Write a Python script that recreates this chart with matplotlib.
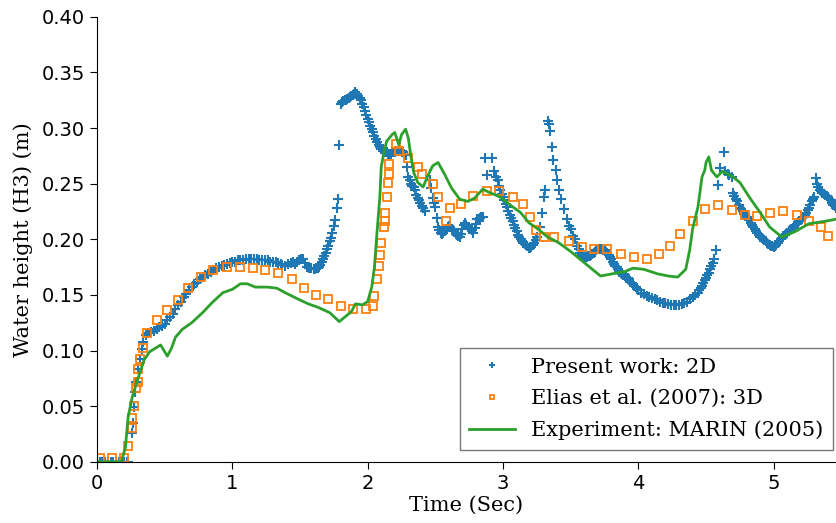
import matplotlib
matplotlib.use("Agg")
from matplotlib import pyplot as plt

# Present work: 2D (dense + markers)
t_2d = [0.00, 0.02, 0.04, 0.06, 0.08, 0.10, 0.12, 0.14, 0.16, 0.18, 0.20, 0.22, 0.23,
        0.26, 0.265, 0.27, 0.28, 0.29, 0.30, 0.32, 0.33, 0.34, 0.36, 0.38,
        0.40, 0.42, 0.44, 0.46, 0.48, 0.50, 0.52, 0.54, 0.56, 0.58, 0.60, 0.62,
        0.64, 0.66, 0.68, 0.70, 0.72, 0.74, 0.76, 0.78, 0.80, 0.82, 0.84, 0.86,
        0.88, 0.90, 0.92, 0.94, 0.96, 0.98, 1.00, 1.02, 1.04, 1.06, 1.08, 1.10,
        1.12, 1.14, 1.16, 1.18, 1.20, 1.22, 1.24, 1.26, 1.28, 1.30, 1.32, 1.34,
        1.36, 1.37, 1.39, 1.41, 1.43, 1.45, 1.46, 1.48, 1.49, 1.51, 1.52, 1.54,
        1.55, 1.57, 1.58, 1.60, 1.61, 1.62, 1.63, 1.64, 1.65, 1.66, 1.67, 1.68,
        1.69, 1.70, 1.71, 1.72, 1.73, 1.74, 1.75, 1.76, 1.77, 1.78, 1.79, 1.80,
        1.81, 1.82, 1.83, 1.84, 1.85, 1.86, 1.87, 1.88, 1.89, 1.90, 1.91, 1.92,
        1.93, 1.94, 1.95, 1.96, 1.97, 1.98, 1.99, 2.00, 2.01, 2.02, 2.03, 2.04,
        2.05, 2.06, 2.07, 2.08, 2.09, 2.10, 2.11, 2.12, 2.13, 2.14, 2.15, 2.16,
        2.17, 2.18, 2.19, 2.20, 2.21, 2.22, 2.23, 2.24, 2.25, 2.26, 2.27, 2.28,
        2.29, 2.30, 2.31, 2.32, 2.33, 2.34, 2.35, 2.36, 2.37, 2.38, 2.39, 2.40,
        2.41, 2.42,
        2.46, 2.47, 2.48, 2.49, 2.50, 2.51, 2.52, 2.53, 2.54, 2.55, 2.56, 2.57,
        2.58, 2.59, 2.60, 2.61, 2.62, 2.63, 2.64, 2.65, 2.66, 2.67, 2.68, 2.69,
        2.70, 2.71, 2.72, 2.73, 2.74, 2.75, 2.76, 2.77, 2.78, 2.79, 2.80, 2.81,
        2.82, 2.83, 2.84, 2.85,
        2.87, 2.88, 2.92, 2.93, 2.95, 2.96, 2.97, 2.98, 2.99, 3.00, 3.01, 3.02,
        3.03, 3.04, 3.05, 3.06, 3.07, 3.08, 3.09, 3.10, 3.11, 3.12, 3.13, 3.14,
        3.15, 3.16, 3.17, 3.18, 3.19, 3.20, 3.21, 3.22, 3.23, 3.24, 3.25,
        3.27, 3.29, 3.30, 3.31, 3.33, 3.34, 3.35, 3.36, 3.37, 3.39, 3.40, 3.41,
        3.43, 3.45, 3.47, 3.49, 3.50, 3.52, 3.53, 3.55, 3.56, 3.57, 3.58, 3.59,
        3.60, 3.61, 3.62, 3.63, 3.64, 3.65, 3.66, 3.67, 3.68, 3.69, 3.70, 3.71,
        3.72, 3.73, 3.74, 3.75, 3.76, 3.77, 3.78, 3.79, 3.80, 3.81, 3.82, 3.83,
        3.84, 3.85, 3.86, 3.87, 3.88, 3.89, 3.90, 3.91, 3.92, 3.93, 3.94, 3.95,
        3.96, 3.97, 3.98, 3.99, 4.00, 4.02, 4.04, 4.06, 4.08, 4.10, 4.12, 4.14,
        4.16, 4.18, 4.20, 4.22, 4.24, 4.26, 4.28, 4.30, 4.32, 4.34, 4.36, 4.38,
        4.40, 4.42, 4.44, 4.45, 4.46, 4.47, 4.48, 4.49, 4.50, 4.51, 4.52, 4.53,
        4.54, 4.55, 4.56, 4.57,
        4.59, 4.60, 4.63, 4.64, 4.66, 4.67, 4.69, 4.70, 4.71, 4.72, 4.73, 4.74,
        4.75, 4.76, 4.77, 4.78, 4.79, 4.80, 4.81, 4.82, 4.83, 4.84, 4.85, 4.86,
        4.87, 4.88, 4.89, 4.90, 4.91, 4.92, 4.93, 4.94, 4.95, 4.96, 4.97, 4.98,
        4.99, 5.00, 5.01, 5.02, 5.03, 5.04, 5.05, 5.06, 5.07, 5.08, 5.09, 5.10,
        5.11, 5.12, 5.13, 5.14, 5.15, 5.16, 5.17, 5.18, 5.19, 5.20, 5.21, 5.22,
        5.23, 5.24, 5.25, 5.26, 5.27, 5.28, 5.29, 5.30, 5.31, 5.32, 5.33, 5.34,
        5.35, 5.36, 5.37, 5.38, 5.39, 5.40, 5.41, 5.42, 5.43, 5.44, 5.45, 5.46]
h_2d = [0.000, 0.000, 0.000, 0.000, 0.000, 0.000, 0.000, 0.000, 0.000, 0.000, 0.000, 0.000, 0.000,
        0.026, 0.035, 0.049, 0.063, 0.072, 0.083, 0.092, 0.101, 0.108, 0.114, 0.116,
        0.117, 0.118, 0.119, 0.121, 0.122, 0.124, 0.127, 0.130, 0.133, 0.137, 0.141, 0.144,
        0.148, 0.151, 0.154, 0.157, 0.160, 0.162, 0.164, 0.166, 0.168, 0.169, 0.171, 0.172,
        0.174, 0.175, 0.176, 0.177, 0.178, 0.179, 0.180, 0.180, 0.181, 0.181, 0.181, 0.182,
        0.182, 0.182, 0.182, 0.182, 0.181, 0.181, 0.181, 0.181, 0.180, 0.180, 0.180, 0.179,
        0.178, 0.177, 0.176, 0.178, 0.179, 0.180, 0.178, 0.180, 0.181, 0.182, 0.182, 0.179,
        0.175, 0.174, 0.174, 0.173, 0.173, 0.174, 0.174, 0.175, 0.177, 0.180, 0.182, 0.185,
        0.188, 0.191, 0.194, 0.198, 0.201, 0.206, 0.212, 0.217, 0.228, 0.236, 0.285, 0.322,
        0.323, 0.324, 0.325, 0.325, 0.326, 0.327, 0.328, 0.329, 0.330, 0.331, 0.332, 0.331,
        0.329, 0.327, 0.325, 0.322, 0.319, 0.315, 0.312, 0.308, 0.305, 0.302, 0.299, 0.296,
        0.293, 0.290, 0.287, 0.285, 0.283, 0.281, 0.279, 0.279, 0.278, 0.278, 0.277, 0.277,
        0.277, 0.278, 0.278, 0.278, 0.279, 0.279, 0.279, 0.279, 0.278, 0.278, 0.277, 0.276,
        0.265, 0.256, 0.253, 0.250, 0.248, 0.247, 0.244, 0.240, 0.237, 0.235, 0.233, 0.230,
        0.228, 0.225,
        0.253, 0.246, 0.237, 0.233, 0.229, 0.219, 0.211, 0.208, 0.206, 0.205, 0.206, 0.207,
        0.209, 0.211, 0.212, 0.211, 0.209, 0.208, 0.207, 0.205, 0.204, 0.203, 0.202, 0.205,
        0.209, 0.213, 0.215, 0.213, 0.211, 0.210, 0.209, 0.208, 0.206, 0.210, 0.214, 0.218,
        0.218, 0.219, 0.220, 0.220,
        0.273, 0.258, 0.273, 0.261, 0.256, 0.253, 0.248, 0.244, 0.241, 0.238, 0.235, 0.232,
        0.229, 0.225, 0.222, 0.219, 0.216, 0.213, 0.210, 0.207, 0.204, 0.202, 0.200, 0.198,
        0.197, 0.196, 0.195, 0.194, 0.192, 0.192, 0.193, 0.195, 0.197, 0.199, 0.202,
        0.211, 0.224, 0.238, 0.244, 0.306, 0.304, 0.297, 0.283, 0.271, 0.262, 0.253, 0.244,
        0.236, 0.227, 0.218, 0.212, 0.209, 0.203, 0.200, 0.194, 0.191, 0.188, 0.186, 0.184,
        0.184, 0.184, 0.184, 0.185, 0.185, 0.186, 0.187, 0.188, 0.189, 0.190, 0.191, 0.191,
        0.191, 0.191, 0.191, 0.190, 0.189, 0.187, 0.186, 0.184, 0.182, 0.180, 0.178, 0.176,
        0.175, 0.173, 0.171, 0.170, 0.169, 0.168, 0.167, 0.166, 0.165, 0.164, 0.162, 0.161,
        0.160, 0.158, 0.157, 0.155, 0.154, 0.152, 0.151, 0.149, 0.148, 0.147, 0.146, 0.145,
        0.144, 0.143, 0.143, 0.142, 0.141, 0.141, 0.141, 0.141, 0.142, 0.143, 0.144, 0.146,
        0.148, 0.150, 0.152, 0.154, 0.156, 0.158, 0.161, 0.163, 0.165, 0.168, 0.170, 0.173,
        0.176, 0.179, 0.182, 0.190,
        0.249, 0.264, 0.278, 0.261, 0.259, 0.258, 0.256, 0.242, 0.239, 0.236, 0.234, 0.231,
        0.228, 0.227, 0.225, 0.223, 0.221, 0.220, 0.218, 0.217, 0.215, 0.213, 0.211, 0.209,
        0.207, 0.206, 0.204, 0.202, 0.201, 0.200, 0.199, 0.198, 0.197, 0.196, 0.195, 0.194,
        0.194, 0.193, 0.194, 0.195, 0.197, 0.198, 0.200, 0.201, 0.203, 0.204, 0.205, 0.206,
        0.207, 0.208, 0.209, 0.210, 0.212, 0.213, 0.214, 0.215, 0.216, 0.217, 0.219, 0.220,
        0.222, 0.224, 0.226, 0.228, 0.231, 0.234, 0.236, 0.238, 0.255, 0.250, 0.247, 0.244,
        0.243, 0.242, 0.241, 0.240, 0.239, 0.238, 0.236, 0.235, 0.233, 0.231, 0.230, 0.228]

# Elias et al. (2007): 3D (open squares)
t_3d = [0.02, 0.11, 0.20, 0.23, 0.26, 0.26, 0.27, 0.29, 0.30, 0.30, 0.32,
        0.34, 0.37, 0.44, 0.52, 0.60, 0.67, 0.77, 0.86, 0.96, 1.06, 1.15,
        1.24, 1.34, 1.44, 1.53, 1.62, 1.71, 1.80, 1.89, 1.99, 2.04, 2.05,
        2.07, 2.08, 2.09, 2.10, 2.12, 2.13, 2.13, 2.14, 2.15, 2.16, 2.16,
        2.21, 2.23, 2.30, 2.37, 2.40, 2.48, 2.52, 2.58, 2.61, 2.69, 2.78,
        2.88, 2.97, 3.07, 3.15, 3.20, 3.24, 3.30, 3.38, 3.49, 3.58, 3.67,
        3.77, 3.87, 3.97, 4.06, 4.15, 4.23, 4.31, 4.40, 4.49, 4.59, 4.69,
        4.79, 4.88, 4.97, 5.07, 5.17, 5.26, 5.35, 5.40]
h_3d = [0.003, 0.003, 0.003, 0.014, 0.030, 0.039, 0.050, 0.066, 0.072, 0.083, 0.092,
        0.102, 0.116, 0.127, 0.136, 0.145, 0.156, 0.166, 0.172, 0.175, 0.175, 0.174,
        0.172, 0.170, 0.164, 0.156, 0.150, 0.146, 0.140, 0.137, 0.137, 0.140, 0.149,
        0.164, 0.176, 0.186, 0.197, 0.211, 0.216, 0.224, 0.238, 0.251, 0.259, 0.268,
        0.286, 0.279, 0.273, 0.265, 0.259, 0.250, 0.238, 0.216, 0.228, 0.232, 0.239,
        0.243, 0.243, 0.238, 0.232, 0.220, 0.208, 0.202, 0.202, 0.198, 0.193, 0.191,
        0.191, 0.187, 0.184, 0.182, 0.187, 0.194, 0.205, 0.216, 0.227, 0.231, 0.226,
        0.222, 0.221, 0.224, 0.225, 0.222, 0.216, 0.211, 0.203]

# Experiment: MARIN (2005) (solid line)
t_exp = [0.00, 0.18, 0.21, 0.23, 0.26, 0.30, 0.35, 0.39, 0.43, 0.47, 0.49,
         0.52, 0.55, 0.58, 0.63, 0.70, 0.78, 0.85, 0.93, 1.00, 1.06, 1.11,
         1.17, 1.26, 1.33, 1.39, 1.49, 1.56, 1.63, 1.72, 1.79, 1.83, 1.88,
         1.91, 1.96, 2.00, 2.03, 2.05, 2.07, 2.09, 2.10, 2.12, 2.14, 2.18,
         2.20, 2.23, 2.25, 2.28, 2.30, 2.32, 2.34, 2.37, 2.41, 2.44, 2.48,
         2.52, 2.57, 2.62, 2.68, 2.74, 2.79, 2.85, 2.90, 2.98, 3.05, 3.13,
         3.19, 3.26, 3.33, 3.41, 3.50, 3.59, 3.72, 3.81, 3.90, 3.96, 4.04,
         4.14, 4.22, 4.29, 4.35, 4.38, 4.40, 4.44, 4.47, 4.49, 4.50, 4.52,
         4.54, 4.58, 4.62, 4.70, 4.75, 4.83, 4.90, 4.97, 5.06, 5.16, 5.26,
         5.37, 5.46]
h_exp = [0.000, 0.000, 0.013, 0.040, 0.058, 0.074, 0.092, 0.099, 0.102, 0.105, 0.101,
         0.095, 0.102, 0.112, 0.119, 0.125, 0.134, 0.143, 0.152, 0.155, 0.160, 0.160,
         0.157, 0.157, 0.156, 0.152, 0.146, 0.142, 0.139, 0.134, 0.126, 0.130, 0.135,
         0.142, 0.141, 0.144, 0.157, 0.175, 0.208, 0.238, 0.265, 0.278, 0.288, 0.294,
         0.296, 0.285, 0.294, 0.299, 0.291, 0.274, 0.260, 0.251, 0.247, 0.256, 0.266,
         0.269, 0.258, 0.246, 0.236, 0.234, 0.237, 0.245, 0.242, 0.238, 0.231, 0.224,
         0.215, 0.209, 0.202, 0.197, 0.189, 0.180, 0.167, 0.169, 0.171, 0.174, 0.173,
         0.169, 0.167, 0.166, 0.173, 0.191, 0.209, 0.229, 0.256, 0.262, 0.269, 0.274,
         0.262, 0.256, 0.261, 0.256, 0.251, 0.236, 0.224, 0.211, 0.202, 0.207, 0.214,
         0.216, 0.218]

fig = plt.figure(figsize=(8.36, 5.23), dpi=100)
ax = fig.add_axes([0.116, 0.117, 0.884, 0.851])

ax.plot(t_2d, h_2d, '+', color='#1f77b4', markersize=7.5, mew=1.5,
        label='Present work: 2D')
ax.plot(t_3d, h_3d, 's', mfc='none', mec='#ff7f0e', markersize=6, mew=1.3,
        label='Elias et al. (2007): 3D')
ax.plot(t_exp, h_exp, '-', color='#2ca02c', lw=2, label='Experiment: MARIN (2005)')

ax.set_xlim(0, 5.46)
ax.set_ylim(0, 0.40)
ax.set_yticks([0.0, 0.05, 0.10, 0.15, 0.20, 0.25, 0.30, 0.35, 0.40])
ax.set_yticklabels(['%.2f' % v for v in ax.get_yticks()])
ax.tick_params(labelsize=14, length=5)
ax.spines['top'].set_visible(False)
ax.spines['right'].set_visible(False)

ax.set_xlabel('Time (Sec)', family='DejaVu Serif', fontsize=15, labelpad=2)
ax.set_ylabel('Water height (H3) (m)', family='DejaVu Serif', fontsize=15, labelpad=6)

leg = ax.legend(loc='lower right', prop={'family': 'DejaVu Serif', 'size': 15},
                markerscale=0.6, handlelength=2.2, fancybox=False,
                edgecolor='#555555', borderaxespad=0, labelspacing=0.6,
                borderpad=0.45, bbox_to_anchor=(0.996, 0.027))
leg.get_frame().set_linewidth(1.0)

fig.savefig('out.png', dpi=100)
